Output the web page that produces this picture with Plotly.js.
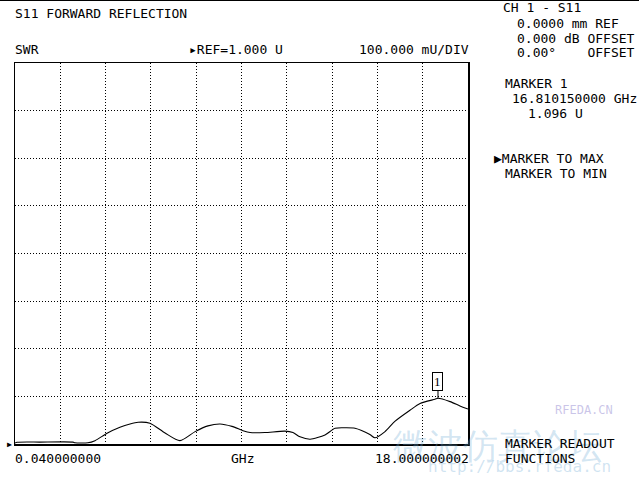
<!DOCTYPE html>
<html>
<head>
<meta charset="utf-8">
<script src="https://cdn.plot.ly/plotly-3.0.1.min.js"></script>
<style>html,body{margin:0;padding:0;background:#fff;}#chart{width:639px;height:480px;}</style>
</head>
<body>
<div id="chart"></div>
<script>
// Frequency (GHz) and SWR (U)
const freqGHz = [0.04, 0.12, 1.03, 2.34, 2.42, 2.93, 3.21, 3.69, 4.20, 4.60, 4.92, 5.39, 5.99, 6.58, 7.18, 7.69, 8.17, 8.64, 9.08, 9.36, 9.95, 10.74, 11.06, 11.34, 11.74, 12.33, 12.73, 13.12, 13.52, 14.11, 14.31, 14.71, 15.11, 15.70, 16.10, 16.69, 16.81, 17.29, 17.68, 18.00];
const swr = [1.002, 1.0036, 1.004, 1.004, 1.0025, 1.0025, 1.007, 1.0225, 1.035, 1.042, 1.0456, 1.0435, 1.023, 1.007, 1.026, 1.038, 1.042, 1.037, 1.028, 1.024, 1.024, 1.027, 1.024, 1.015, 1.010, 1.019, 1.033, 1.034, 1.033, 1.020, 1.013, 1.026, 1.048, 1.071, 1.085, 1.094, 1.096, 1.089, 1.080, 1.0735];
const startGHz = 0.04, stopGHz = 18.0;
const refValue = 1.0, perDiv = 0.1, yDivs = 8, xDivs = 10;
const markerFreq = 16.81015, markerValue = 1.096;

const W = 639, H = 480, L = 15, R = 171, T = 63, B = 36;
const pw = W - L - R, ph = H - T - B;
const px = x => (x - L) / pw;
const py = y => (H - B - y) / ph;
const FONT = "DejaVu Sans Mono, Liberation Mono, monospace";

function txt(text, x, y, anchor, size, color) {
  anchor = anchor || 'left';
  return {xref: 'paper', yref: 'paper', x: px(x), y: py(y), text: text,
    showarrow: false, xanchor: anchor, yanchor: 'middle',
    xshift: anchor === 'left' ? -2 : (anchor === 'right' ? 2 : 0),
    font: {family: FONT, size: size || 13, color: color || '#000'}};
}
const nb = s => s.replace(/ /g, '\u00a0');

const annotations = [
  // watermark (faint, drawn first)
  txt('微波仿真论坛', 393, 446, 'left', 35, 'rgba(120,175,215,0.33)'),
  txt('http://bbs.rfeda.cn', 428, 466, 'left', 16, 'rgba(120,175,215,0.35)'),
  txt('RFEDA.CN', 555, 410, 'left', 12, 'rgba(150,140,210,0.5)'),
  txt('S11 FORWARD REFLECTION', 15, 13),
  txt('SWR', 15, 50),
  txt(nb('▸REF=1.000 U'), 189, 50),
  txt(nb('100.000 mU/DIV'), 469, 50, 'right'),
  txt(nb('CH 1 - S11'), 503, 8),
  txt(nb('0.0000 mm REF'), 517, 24),
  txt(nb('0.000 dB OFFSET'), 517, 39),
  txt(nb('0.00°    OFFSET'), 517, 53),
  txt(nb('MARKER 1'), 505, 83),
  txt(nb('16.810150000 GHz'), 512, 98),
  txt(nb('1.096 U'), 528, 113),
  txt(nb('▶MARKER TO MAX'), 494, 158),
  txt(nb('MARKER TO MIN'), 505, 173),
  txt('0.040000000', 15, 458),
  txt('GHz', 231, 458),
  txt('18.000000002', 469, 458, 'right'),
  txt(nb('MARKER READOUT'), 505, 443),
  txt('FUNCTIONS', 505, 458),
  // reference arrow
  {xref: 'paper', yref: 'y', x: 0, y: refValue, text: '▶', showarrow: false,
   xanchor: 'right', yanchor: 'middle', xshift: -1,
   font: {family: FONT, size: 8, color: '#000'}},
  // marker 1
  {x: markerFreq, y: markerValue, xref: 'x', yref: 'y', text: '1', showarrow: true,
   arrowhead: 0, arrowwidth: 1, arrowcolor: '#000', ax: 0, ay: -17,
   bordercolor: '#000', borderwidth: 1, borderpad: 1, bgcolor: '#fff',
   font: {family: 'Liberation Serif, serif', size: 13, color: '#000'}}
];

const trace = {x: freqGHz, y: swr, type: 'scatter', mode: 'lines',
  line: {color: '#000', width: 1.1, shape: 'spline', smoothing: 0.7},
  hoverinfo: 'skip', cliponaxis: true};

const layout = {
  width: W, height: H,
  margin: {l: L, r: R, t: T, b: B, pad: 0},
  paper_bgcolor: '#fff', plot_bgcolor: '#fff',
  showlegend: false,
  xaxis: {range: [startGHz, stopGHz], tick0: startGHz, dtick: (stopGHz - startGHz) / xDivs,
    showgrid: true, gridcolor: '#000', gridwidth: 1, griddash: '1px,2px',
    showticklabels: false, ticks: '', zeroline: false,
    showline: true, linecolor: '#000', linewidth: 1.5, mirror: true},
  yaxis: {range: [refValue, refValue + perDiv * yDivs], tick0: refValue, dtick: perDiv,
    showgrid: true, gridcolor: '#000', gridwidth: 1, griddash: '1px,2px',
    showticklabels: false, ticks: '', zeroline: false,
    showline: true, linecolor: '#000', linewidth: 1.5, mirror: true},
  annotations: annotations,
  shapes: [{type: 'line', xref: 'paper', yref: 'paper', x0: px(0), x1: px(W), y0: py(0.5), y1: py(0.5),
    line: {color: '#000', width: 1}}]
};

Plotly.newPlot('chart', [trace], layout, {staticPlot: true, displayModeBar: false});
</script>
</body>
</html>
